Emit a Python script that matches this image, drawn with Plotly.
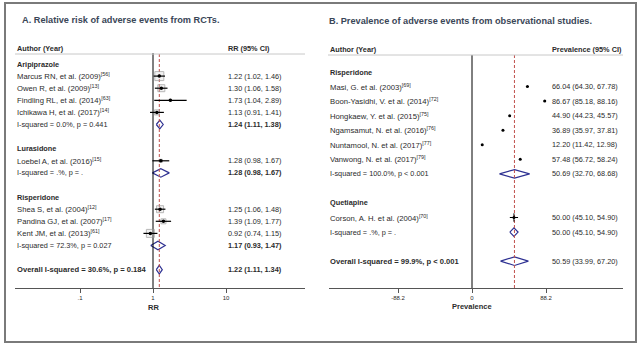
import plotly.graph_objects as go
import numpy as np

W, H = 640, 345

# ---------------- data: panel A (RR from RCTs) ----------------
rr_groups = ["Aripiprazole", "Lurasidone", "Risperidone"]
rr_group_n = [4, 1, 3]
rr_studies = ["Marcus RN, et al. (2009)", "Owen R, et al. (2009)", "Findling RL, et al. (2014)",
              "Ichikawa H, et al. (2017)", "Loebel A, et al. (2016)", "Shea S, et al. (2004)",
              "Pandina GJ, et al. (2007)", "Kent JM, et al. (2013)"]
rr_refs = ["56", "13", "63", "14", "15", "12", "17", "61"]
rr_est = [1.22, 1.30, 1.73, 1.13, 1.28, 1.25, 1.39, 0.92]
rr_lo = [1.02, 1.06, 1.04, 0.91, 0.98, 1.06, 1.09, 0.74]
rr_hi = [1.46, 1.58, 2.89, 1.41, 1.67, 1.48, 1.77, 1.15]
rr_pool_est = [1.24, 1.28, 1.17]
rr_pool_lo = [1.11, 0.98, 0.93]
rr_pool_hi = [1.38, 1.67, 1.47]
rr_pool_het = ["I-squared = 0.0%, p = 0.441", "I-squared = .%, p = .", "I-squared = 72.3%, p = 0.027"]
rr_overall = [1.22, 1.11, 1.34]
rr_overall_het = "Overall I-squared = 30.6%, p = 0.184"
rr_ticks = [0.1, 1, 10]
rr_ticklabels = [".1", "1", "10"]

# ---------------- data: panel B (prevalence) ----------------
pv_groups = ["Risperidone", "Quetiapine"]
pv_group_n = [6, 1]
pv_studies = ["Masi, G. et al. (2003)", "Boon-Yasidhi, V. et al. (2014)", "Hongkaew, Y. et al. (2015)",
              "Ngamsamut, N. et al. (2016)", "Nuntamool, N. et al. (2017)", "Vanwong, N. et al. (2017)",
              "Corson, A. H. et al. (2004)"]
pv_refs = ["69", "72", "75", "76", "77", "79", "70"]
pv_est = [66.04, 86.67, 44.90, 36.89, 12.20, 57.48, 50.00]
pv_lo = [64.30, 85.18, 44.23, 35.97, 11.42, 56.72, 45.10]
pv_hi = [67.78, 88.16, 45.57, 37.81, 12.98, 58.24, 54.90]
pv_pool_est = [50.69, 50.00]
pv_pool_lo = [32.70, 45.10]
pv_pool_hi = [68.68, 54.90]
pv_pool_het = ["I-squared = 100.0%, p < 0.001", "I-squared = .%, p = ."]
pv_overall = [50.59, 33.99, 67.20]
pv_overall_het = "Overall I-squared = 99.9%, p < 0.001"
pv_ticks = [-88.2, 0, 88.2]
pv_ticklabels = ["-88.2", "0", "88.2"]

# ---------------- styles / positions ----------------
rr_box_sizes = [9, 7, 2, 5, 3, 7, 5, 8]
FONT = "Liberation Sans, Arial, sans-serif"
TXT = "#2b2b2b"
TITLE_C = "#3a4657"
DIAM = "#2e3192"
RED = "#c0504d"
BODY = 7.3
NAME = 7.7
AXIS_Y = 288

fig = go.Figure()
ann = []
shapes = []


def px(x):
    return x / W


def text(x, y, s, size=BODY, bold=False, color=TXT):
    if bold:
        s = "<b>" + s + "</b>"
    ann.append(dict(x=px(x), y=y, xref="paper", yref="y", text=s, showarrow=False,
                    xanchor="left", yanchor="middle", font=dict(family=FONT, size=size, color=color)))


def diamond(xa, y, e, l, h, hh=4.3):
    fig.add_trace(go.Scatter(x=[l, e, h, e, l], y=[y, y - hh, y, y + hh, y], xaxis=xa, yaxis="y",
                             mode="lines", fill="toself", fillcolor="white",
                             line=dict(color=DIAM, width=1.2), hoverinfo="skip"))


def fmt(e, l, h):
    return f"{e:.2f} ({l:.2f}, {h:.2f})"


def build(panel):
    if panel == "A":
        groups, gn, st, refs, est, lo, hi = rr_groups, rr_group_n, rr_studies, rr_refs, rr_est, rr_lo, rr_hi
        pe, pl, ph, het = rr_pool_est, rr_pool_lo, rr_pool_hi, rr_pool_het
        ov, ovhet = rr_overall, rr_overall_het
        y0, step, xname, xval, xa = 64, 12.1, 15, 226, "x"
        pool_bold = True
    else:
        groups, gn, st, refs, est, lo, hi = pv_groups, pv_group_n, pv_studies, pv_refs, pv_est, pv_lo, pv_hi
        pe, pl, ph, het = pv_pool_est, pv_pool_lo, pv_pool_hi, pv_pool_het
        ov, ovhet = pv_overall, pv_overall_het
        y0, step, xname, xval, xa = 72, 14.55, 328, 550, "x2"
        pool_bold = False
    r = 0
    k = 0
    sy = []
    for g, n in enumerate(gn):
        text(xname, y0 + r * step, groups[g], bold=True)
        r += 1
        for _ in range(n):
            y = y0 + r * step
            sy.append(y)
            text(xname, y, st[k] + "<sup>[" + refs[k] + "]</sup>", size=NAME)
            text(xval, y, fmt(est[k], lo[k], hi[k]))
            r += 1
            k += 1
        y = y0 + r * step
        text(xname, y, het[g])
        text(xval, y, fmt(pe[g], pl[g], ph[g]), bold=pool_bold)
        diamond(xa, y, pe[g], pl[g], ph[g])
        r += 2
    y = y0 + r * step
    text(xname, y, ovhet, size=7.6, bold=True)
    text(xval, y, fmt(*ov), bold=pool_bold)
    diamond(xa, y, *ov)
    return sy


# ---- panel A marks ----
ya = build("A")
fig.add_trace(go.Scatter(x=[1, 1], y=[53, AXIS_Y], xaxis="x", yaxis="y", mode="lines",
                         line=dict(color="black", width=1), hoverinfo="skip"))
fig.add_trace(go.Scatter(x=[rr_overall[0]] * 2, y=[54, AXIS_Y], xaxis="x", yaxis="y", mode="lines",
                         line=dict(color=RED, width=1, dash="3px,2px"), hoverinfo="skip"))
fig.add_trace(go.Scatter(x=rr_est, y=ya, xaxis="x", yaxis="y", mode="markers",
                         marker=dict(symbol="square", size=rr_box_sizes, color="rgba(200,200,200,0.35)",
                                     line=dict(color="#9a9a9a", width=1)), hoverinfo="skip"))
for e, l, h, y in zip(rr_est, rr_lo, rr_hi, ya):
    fig.add_trace(go.Scatter(x=[l, h], y=[y, y], xaxis="x", yaxis="y", mode="lines",
                             line=dict(color="black", width=1.2), hoverinfo="skip"))
fig.add_trace(go.Scatter(x=rr_est, y=ya, xaxis="x", yaxis="y", mode="markers",
                         marker=dict(symbol="circle", size=3.5, color="black"), hoverinfo="skip"))

# ---- panel B marks ----
yb = build("B")
fig.add_trace(go.Scatter(x=[0, 0], y=[55, AXIS_Y], xaxis="x2", yaxis="y", mode="lines",
                         line=dict(color="black", width=1), hoverinfo="skip"))
fig.add_trace(go.Scatter(x=[pv_overall[0]] * 2, y=[55, AXIS_Y], xaxis="x2", yaxis="y", mode="lines",
                         line=dict(color=RED, width=1, dash="3px,2px"), hoverinfo="skip"))
for e, l, h, y in zip(pv_est, pv_lo, pv_hi, yb):
    fig.add_trace(go.Scatter(x=[l, h], y=[y, y], xaxis="x2", yaxis="y", mode="lines",
                             line=dict(color="black", width=1), hoverinfo="skip"))
fig.add_trace(go.Scatter(x=pv_est, y=yb, xaxis="x2", yaxis="y", mode="markers",
                         marker=dict(symbol="circle", size=3, color="black"), hoverinfo="skip"))
fig.add_trace(go.Scatter(x=pv_est[-1:], y=yb[-1:], xaxis="x2", yaxis="y", mode="markers",
                         marker=dict(symbol="line-ns-open", size=6, color="black",
                                     line=dict(color="black", width=1)), hoverinfo="skip"))

# ---- titles and headers ----
text(20, 20, "A. Relative risk of adverse events from RCTs.", size=9.2, bold=True, color=TITLE_C)
text(327, 21, "B. Prevalence of adverse events from observational studies.", size=9.2, bold=True, color=TITLE_C)
text(15, 48, "Author (Year)", bold=True)
text(226, 48, "RR (95% CI)", bold=True)
text(328, 49, "Author (Year)", bold=True)
text(550, 49, "Prevalence (95% CI)", bold=True)
ann.append(dict(x=px(153), y=307, xref="paper", yref="y", text="<b>RR</b>", showarrow=False,
                xanchor="center", yanchor="middle", font=dict(family=FONT, size=7.5, color=TXT)))
ann.append(dict(x=px(472), y=306, xref="paper", yref="y", text="<b>Prevalence</b>", showarrow=False,
                xanchor="center", yanchor="middle", font=dict(family=FONT, size=7.5, color=TXT)))

shapes.append(dict(type="line", xref="paper", yref="y", x0=px(15), x1=px(305), y0=54, y1=54,
                   line=dict(color="#c8c8c8", width=1)))
shapes.append(dict(type="line", xref="paper", yref="y", x0=px(328), x1=px(623), y0=55, y1=55,
                   line=dict(color="#c8c8c8", width=1)))
shapes.append(dict(type="rect", xref="paper", yref="y", x0=px(5), x1=px(636), y0=3, y1=342,
                   line=dict(color="#7a7a7a", width=2)))

k2 = 74 / 88.2
axis_common = dict(anchor="free", position=(H - AXIS_Y) / H, showline=True, linecolor="#555", linewidth=1,
                   ticks="outside", ticklen=4, tickwidth=1, tickcolor="#555", showgrid=False, zeroline=False,
                   tickfont=dict(family=FONT, size=6, color=TXT), fixedrange=True)

fig.update_layout(
    width=W, height=H, margin=dict(l=0, r=0, t=0, b=0, pad=0),
    paper_bgcolor="white", plot_bgcolor="white", showlegend=False,
    xaxis=dict(type="log", domain=[px(15), px(305)], range=[(15 - 153) / 73, (305 - 153) / 73],
               tickvals=rr_ticks, ticktext=rr_ticklabels, **axis_common),
    xaxis2=dict(domain=[px(329), px(623)], range=[(329 - 472) / k2, (623 - 472) / k2],
                tickvals=pv_ticks, ticktext=pv_ticklabels, **axis_common),
    yaxis=dict(range=[H, 0], domain=[0, 1], visible=False, fixedrange=True),
    annotations=ann, shapes=shapes,
)

fig.write_html("out.html")
